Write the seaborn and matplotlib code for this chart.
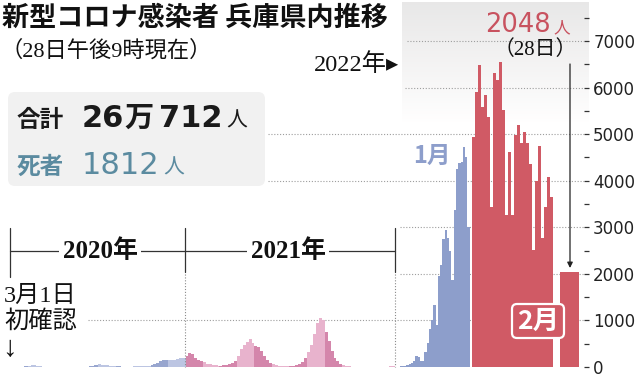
import datetime as dt
import numpy as np
import pandas as pd
import matplotlib
matplotlib.use("Agg")
import matplotlib.pyplot as plt
import seaborn as sns
from matplotlib.patches import FancyBboxPatch

# ---------------- data ----------------
# 2020-03 .. 2021-12 : daily level for each ~5-day period of the month
# (periods: 1-5, 6-10, 11-15, 16-20, 21-25, 26-end)
cases_2020 = [
    2, 8, 10, 8, 10, 15,          # Mar
    20, 35, 35, 25, 15, 8,        # Apr
    4, 2, 1, 0, 0, 0,             # May
    0, 0, 1, 1, 1, 2,             # Jun
    3, 5, 8, 15, 30, 45,          # Jul
    55, 50, 40, 35, 25, 20,       # Aug
    15, 12, 10, 10, 8, 10,        # Sep
    12, 15, 18, 20, 25, 30,       # Oct
    40, 60, 90, 120, 140, 150,    # Nov
    150, 140, 160, 180, 190, 200, # Dec
]
cases_2021 = [
    230, 300, 280, 200, 160, 120,   # Jan
    100, 70, 55, 45, 35, 30,        # Feb
    30, 40, 50, 60, 90, 130,        # Mar
    230, 380, 470, 530, 600, 520,   # Apr
    450, 420, 340, 230, 150, 90,    # May
    60, 40, 30, 25, 20, 20,         # Jun
    25, 30, 40, 60, 100, 200,       # Jul
    330, 480, 700, 950, 1050, 1000, # Aug
    750, 550, 350, 200, 120, 70,    # Sep
    40, 25, 15, 10, 8, 6,           # Oct
    5, 5, 4, 4, 4, 5,               # Nov
    5, 6, 8, 10, 12, 15,            # Dec
]
jan_2022 = [15, 20, 20, 35, 60, 80, 130, 240, 210, 130, 120, 320, 520, 820,
            1010, 1340, 900, 1950, 2200, 2750, 2940, 2760, 2500, 1870, 3370,
            4250, 4370, 4400, 4730, 4510, 3010]
feb_2022 = [4940, 5910, 6490, 5590, 5840, 5370, 3440, 6320, 6160, 6560, 5510,
            3260, 4620, 3260, 4980, 5190, 4820, 5040, 4800, 4350, 2510, 3990,
            4750, 2760, 3440, 4090, 3640, 2048]
yticks = [0, 1000, 2000, 3000, 4000, 5000, 6000, 7000]
period_starts = [1, 6, 11, 16, 21, 26]

# ---------------- layout helpers (pixel geometry) ----------------
W, H = 640, 375
BASE = 367            # pixel row of value 0
PX_PER = 0.04657      # pixels per case
YMAX = BASE / PX_PER
T0 = dt.date(2020, 3, 1)
T1 = dt.date(2022, 1, 1)
X0, X1 = 10, 395


def xpos(d):
    return X0 + (d - T0).days * (X1 - X0) / (T1 - T0).days


rows = []
edges = []
for yr, vals in ((2020, cases_2020), (2021, cases_2021)):
    months = list(range(3, 13)) if yr == 2020 else list(range(1, 13))
    for mi, m in enumerate(months):
        nxt = dt.date(yr + (m == 12), m % 12 + 1, 1)
        for pi, sd in enumerate(period_starts):
            a = dt.date(yr, m, sd)
            b = dt.date(yr, m, period_starts[pi + 1]) if pi < 5 else nxt
            xa, xb = xpos(a), xpos(b)
            edges += [xa, xb]
            grp = f"{yr}-{'odd' if m % 2 else 'even'}"
            rows.append(((xa + xb) / 2, vals[mi * 6 + pi], grp))

# January 2022 (expanded scale)
J0, JW = 399.5, 2.26
for i, v in enumerate(jan_2022):
    xa, xb = J0 + i * JW, J0 + (i + 1) * JW
    edges += [xa, xb]
    rows.append(((xa + xb) / 2, v, "2022-01"))
# February 2022
F0, FW = 472.0, 3.0
for i, v in enumerate(feb_2022[:-1]):
    xa, xb = F0 + i * FW, F0 + (i + 1) * FW
    edges += [xa, xb]
    rows.append(((xa + xb) / 2, v, "2022-02"))
edges += [560.0, 579.0]
rows.append((569.5, feb_2022[-1], "2022-02"))

edges = [float(e) for e in np.unique(np.round(edges, 4))]
df = pd.DataFrame(rows, columns=["x", "cases", "grp"])

pal = {"2020-odd": "#98a6cf", "2020-even": "#bcc5e2",
       "2021-odd": "#d486ab", "2021-even": "#e8b3cd",
       "2022-01": "#8d9ecb", "2022-02": "#d05a65"}

# ---------------- style ----------------
sns.set_theme(style="white")
plt.rcParams["font.family"] = ["Noto Sans CJK JP", "DejaVu Sans"]
CJK = ["Noto Sans CJK JP", "DejaVu Sans"]
SERIF = ["Liberation Serif", "Noto Sans CJK JP", "DejaVu Sans"]

fig = plt.figure(figsize=(W / 100, H / 100), dpi=100)
fig.patch.set_facecolor("white")
ax = fig.add_axes([0, (H - BASE) / H, 584 / W, BASE / H])
ax.set_facecolor("none")

# light grey panel behind the 2022 part (top)
grad = np.linspace(0.91, 1.0, 100).reshape(-1, 1)
ax.imshow(np.dstack([grad, grad * 0.998, grad * 0.998]),
          extent=[402, 589, YMAX - 122 / PX_PER, YMAX - 3 / PX_PER],
          aspect="auto", origin="upper", zorder=0, clip_on=False)

# grid lines (dotted)
grid_start = {1000: 88, 2000: 400, 3000: 400, 4000: 268, 5000: 268, 6000: 405, 7000: 407}
for yv, xs in grid_start.items():
    ax.hlines(yv, xs, 584, colors="#9d9d9d", linestyles=(0, (1, 1.6)), lw=0.8, zorder=0.5)

for grp, col in pal.items():
    sub = df[df["grp"] == grp]
    sns.histplot(x=sub["x"].to_numpy(), weights=sub["cases"].to_numpy(), bins=edges,
                 color=col, alpha=1, linewidth=0, antialiased=False, ax=ax,
                 stat="count", zorder=2)

ax.set_xlim(0, 584)
ax.set_ylim(0, YMAX)
for s in ax.spines.values():
    s.set_visible(False)
ax.set_xlabel("")
ax.set_ylabel("")
ax.set_xticks([])
ax.yaxis.tick_right()
ax.set_yticks(yticks)
ax.set_yticklabels([str(v) for v in yticks], family=["DejaVu Sans"])
ax.set_yticks(np.arange(500, 7501, 1000), minor=True)
ax.tick_params(axis="y", which="both", direction="out", length=3.6, width=0.9,
               color="#333333", pad=3.0, labelsize=12, labelcolor="#222222",
               right=True, labelright=True, left=False, labelleft=False)

# ---------------- overlay in pixel coordinates ----------------
ov = fig.add_axes([0, 0, 1, 1])
ov.set_xlim(0, W)
ov.set_ylim(H, 0)
ov.axis("off")
ov.patch.set_visible(False)

ov.text(2, 18, "新型コロナ感染者 兵庫県内推移", fontsize=19.5, fontweight="bold",
        family=CJK, va="center", ha="left", color="#111111")
ov.text(1, 51, "（28日午後9時現在）", fontsize=16, family=SERIF,
        va="center", ha="left", color="#111111")

# info box
ov.add_patch(FancyBboxPatch((8, 92), 257, 94, boxstyle="round,pad=0,rounding_size=7",
                            fc="#f1f1f1", ec="none"))
ov.text(17, 127, "合計", fontsize=17, fontweight="bold", family=CJK,
        va="baseline", ha="left", color="#1a1a1a")
ov.text(82, 127, "26", fontsize=22, fontweight="bold", family=["DejaVu Sans"],
        va="baseline", ha="left", color="#1a1a1a")
ov.text(124, 127, "万", fontsize=21, fontweight="bold", family=CJK,
        va="baseline", ha="left", color="#1a1a1a")
ov.text(159, 127, "712", fontsize=22, fontweight="bold", family=["DejaVu Sans"],
        va="baseline", ha="left", color="#1a1a1a")
ov.text(226, 127, "人", fontsize=15, family=CJK, va="baseline", ha="left", color="#1a1a1a")
ov.text(17, 174, "死者", fontsize=17, fontweight="bold", family=CJK, va="baseline",
        ha="left", color="#5b8ba0")
ov.text(82, 174, "1812", fontsize=22, family=["DejaVu Sans"], va="baseline",
        ha="left", color="#5b8ba0")
ov.text(163, 174, "人", fontsize=15, family=CJK, va="baseline", ha="left", color="#5b8ba0")

# year bracket
lc = "#333333"
ov.plot([10, 10], [228, 277], color=lc, lw=0.9)
ov.plot([185, 185], [228, 272], color=lc, lw=0.9)
ov.plot([395, 395], [228, 272], color=lc, lw=0.9)
ov.plot([10, 395], [251, 251], color=lc, lw=0.9)
ov.plot([185, 185], [274, 367], color="#8a8a8a", lw=0.8, ls=(0, (1, 1.6)))
ov.plot([395, 395], [274, 367], color="#8a8a8a", lw=0.8, ls=(0, (1, 1.6)))
for xc, t in ((100, "2020年"), (288, "2021年")):
    ov.text(xc, 251, t, fontsize=18, family=SERIF, fontweight="bold", va="center",
            ha="center", color="#111111",
            bbox=dict(fc="white", ec="none", pad=2.5))

ov.text(4, 296, "3月1日", fontsize=17.5, family=SERIF, va="center", ha="left", color="#111111")
ov.text(4, 321, "初確認", fontsize=17.5, family=SERIF, va="center", ha="left", color="#111111")
ov.text(2, 349, "↓", fontsize=21, family=SERIF, va="center", ha="left", color="#111111")

ov.text(399, 65, "2022年▸", fontsize=17.5, family=SERIF, va="center", ha="right",
        color="#111111")

# latest value
ov.text(551, 32, "2048", fontsize=18.5, family=["DejaVu Sans"], va="baseline",
        ha="right", color="#c8525f")
ov.text(553, 32, "人", fontsize=12, family=CJK, va="baseline", ha="left", color="#c8525f")
ov.text(577, 50, "（28日）", fontsize=15, family=SERIF, va="center", ha="right",
        color="#111111")
ov.annotate("", xy=(570, 268), xytext=(570, 64),
            arrowprops=dict(arrowstyle="-|>", color="#222222", lw=0.9,
                            mutation_scale=8, shrinkA=0, shrinkB=0))

ov.text(432, 156, "1月", fontsize=17, fontweight="bold", family=CJK, va="center",
        ha="center", color="#8d9ecb")
ov.add_patch(FancyBboxPatch((512, 304), 52, 34, boxstyle="round,pad=0,rounding_size=5",
                            fc="#d05a65", ec="white", lw=1.6))
ov.text(538, 321, "2月", fontsize=19, fontweight="bold", family=CJK, va="center",
        ha="center", color="white")

fig.savefig("out.png", dpi=100, facecolor="white")
